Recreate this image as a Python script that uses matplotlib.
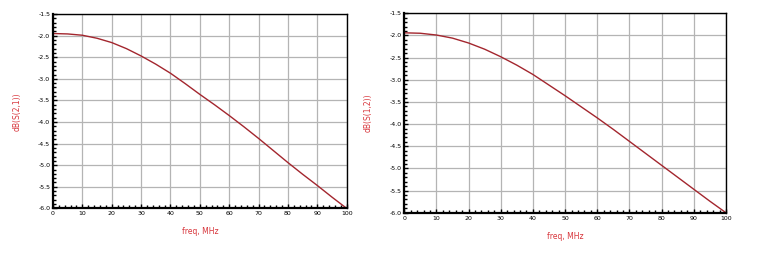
import matplotlib.pyplot as plt
from matplotlib.ticker import MultipleLocator

freq = [0, 5, 10, 15, 20, 25, 30, 35, 40, 45, 50, 55, 60, 65, 70, 75, 80, 85, 90, 95, 100]
s21 = [-1.95, -1.96, -1.99, -2.06, -2.16, -2.30, -2.47, -2.66, -2.87, -3.11, -3.36,
       -3.60, -3.85, -4.11, -4.38, -4.66, -4.94, -5.21, -5.47, -5.74, -6.00]
s12 = [-1.94, -1.95, -1.99, -2.06, -2.17, -2.31, -2.48, -2.67, -2.88, -3.12, -3.36,
       -3.61, -3.86, -4.12, -4.39, -4.66, -4.93, -5.20, -5.47, -5.74, -6.00]

curve_color = "#a3262e"
label_color = "#d8363c"

fig = plt.figure(figsize=(7.57, 2.56), dpi=100)
ax1 = fig.add_axes([0.070, 0.186, 0.388, 0.759])
ax2 = fig.add_axes([0.534, 0.169, 0.425, 0.779])

for ax, y, lab in [(ax1, s21, "dB(S(2,1))"), (ax2, s12, "dB(S(1,2))")]:
    ax.plot(freq, y, color=curve_color, lw=1.0)
    ax.set_xlim(0, 100)
    ax.set_ylim(-6.0, -1.5)
    ax.xaxis.set_major_locator(MultipleLocator(10))
    ax.xaxis.set_minor_locator(MultipleLocator(2))
    ax.yaxis.set_major_locator(MultipleLocator(0.5))
    ax.yaxis.set_minor_locator(MultipleLocator(0.1))
    ax.grid(True, which="major", color="#b4b4b4", lw=0.9)
    ax.tick_params(which="both", direction="in", labelsize=4.5, pad=2,
                   top=False, right=False, colors="black")
    ax.tick_params(which="major", length=3, width=1)
    ax.tick_params(which="minor", length=2.5, width=1)
    ax.set_yticks(ax.get_yticks())
    ax.set_yticklabels(["%.1f" % v for v in ax.get_yticks()])
    for s in ax.spines.values():
        s.set_linewidth(1.0)
    ax.spines["left"].set_linewidth(1.6)
    ax.spines["bottom"].set_linewidth(1.6)
    ax.set_ylim(-6.0, -1.5)
    ax.set_xlabel("freq, MHz", color=label_color, fontsize=5.5, labelpad=8)
    ax.set_ylabel(lab, color=label_color, fontsize=5.5, labelpad=12)

fig.savefig("out.png", dpi=100)
